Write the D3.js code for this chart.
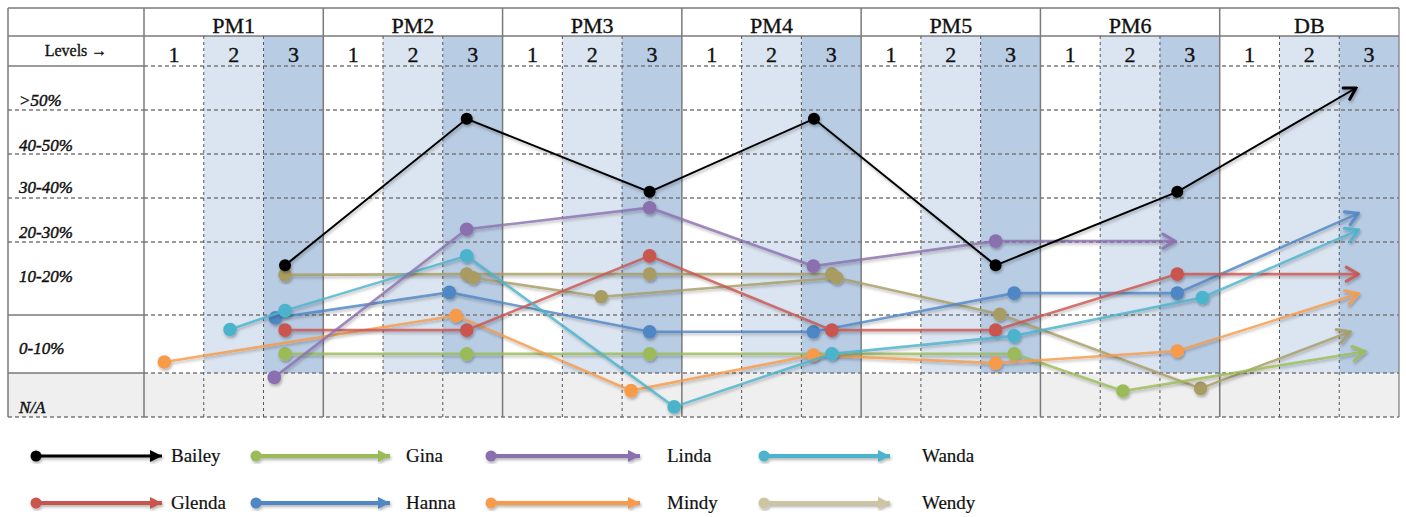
<!DOCTYPE html>
<html>
<head>
<meta charset="utf-8">
<script src="https://cdn.jsdelivr.net/npm/d3@7/dist/d3.min.js"></script>
<style>
  html, body { margin: 0; padding: 0; background: #fff; }
  svg { display: block; }
</style>
</head>
<body>
<svg id="chart" width="1406" height="517"></svg>
<script>
(function () {
// ---------------- DATA ----------------
const stages = ["PM1", "PM2", "PM3", "PM4", "PM5", "PM6", "DB"];
const levels = ["1", "2", "3"];
const levelsLabel = "Levels →";
const bandLabels = [">50%", "40-50%", "30-40%", "20-30%", "10-20%", "0-10%", "N/A"];
// value edges of the bands (N/A band below 0)
const bandEdges = [-10, 0, 10, 20, 30, 40, 50, 60];

// points: [column position (0..21), value]; last point of a series is the arrow tip
const bailey = [[2.36, 16.8], [5.40, 48.0], [8.46, 31.4], [11.21, 48.0], [14.25, 16.8], [17.29, 31.4], [20.28, 55.0]];
const gina   = [[2.36, 3.3], [5.40, 3.3], [8.46, 3.3], [14.56, 3.3], [16.38, -4.1], [20.43, 3.7]];
const linda  = [[2.18, -1.0], [5.40, 22.9], [8.46, 27.8], [11.20, 16.7], [14.25, 20.2], [17.25, 20.2]];
const wanda  = [[1.44, 7.5], [2.36, 10.6], [5.40, 18.1], [8.87, -7.7], [11.51, 3.3], [14.56, 6.4], [17.71, 12.4], [20.32, 22.7]];
const glenda = [[2.36, 7.4], [5.40, 7.4], [8.46, 18.1], [11.51, 7.4], [14.25, 7.4], [17.29, 15.6], [20.32, 15.6]];
const hanna  = [[2.20, 9.5], [5.11, 13.1], [8.46, 7.1], [11.20, 7.1], [14.56, 13.0], [17.29, 13.0], [20.32, 26.5]];
const mindy  = [[0.34, 1.9], [5.22, 9.9], [8.15, -4.0], [11.20, 3.1], [14.25, 1.7], [17.29, 3.8], [20.32, 12.9]];
const wendy  = [[5.51, 15.1], [7.65, 12.5], [11.59, 15.1], [14.32, 10.1], [17.68, -3.5], [20.18, 7.1]];
const wendyFlat = [[2.36, 15.5], [5.40, 15.6], [8.46, 15.6], [11.51, 15.6]]; // second Wendy trace, no arrow

const seriesNames = ["Bailey", "Gina", "Linda", "Wanda", "Glenda", "Hanna", "Mindy", "Wendy"];

// ---------------- STYLE / LAYOUT ----------------
const colors = {
  Bailey: "#000000", Gina: "#9bbb59", Linda: "#8b6fb0", Wanda: "#4bb3cc",
  Glenda: "#c9544f", Hanna: "#4f86c4", Mindy: "#f79a48", Wendy: "#a89c64"
};
const legendColors = Object.assign({}, colors, { Wendy: "#cdc5a2" });

const W = 1406, H = 517;
const leftX = 8, topY = 8, plotLeft = 144, rightX = 1399;
const headRow1 = 36;
const edgePx = [417, 373, 315, 242, 198, 154, 110, 66];
const bandLabelLift = [4, 3, 5, 4, 33, 19, 4]; // baseline offset from band bottom, same order as bandLabels
const fillLevel = ["#ffffff", "#dbe5f1", "#b8cce4"];
const naFill = "#efefef";
const gridCol = "#7a7a7a";
const fontSerif = "'Liberation Serif', 'DejaVu Serif', serif";
const ink = "#111";

const svg = d3.select("#chart");
const x = d3.scaleLinear().domain([0, stages.length * levels.length]).range([plotLeft, rightX]);
const y = d3.scaleLinear().domain(bandEdges).range(edgePx);

// defs
const defs = svg.append("defs");
const f = defs.append("filter").attr("id", "shadow").attr("x", "-20%").attr("y", "-20%").attr("width", "140%").attr("height", "140%");
f.append("feDropShadow").attr("dx", 1).attr("dy", 2).attr("stdDeviation", 1.4)
  .attr("flood-color", "#000").attr("flood-opacity", 0.3);

seriesNames.forEach(n => {
  const big = n === "Bailey";
  defs.append("marker")
    .attr("id", "arr-" + n)
    .attr("viewBox", "-14 -9 16 18")
    .attr("refX", 0).attr("refY", 0)
    .attr("markerUnits", "userSpaceOnUse")
    .attr("markerWidth", 16).attr("markerHeight", 18)
    .attr("orient", "auto")
    .append("path")
    .attr("d", big ? "M-11,-6.5 L0,0 L-11,6.5" : "M-12,-7 L0,0 L-12,7")
    .attr("fill", "none")
    .attr("stroke", colors[n])
    .attr("stroke-width", big ? 3 : 3.2)
    .attr("stroke-linejoin", "miter")
    .attr("stroke-linecap", "round")
    .attr("stroke-opacity", big ? 1 : 0.85);
  defs.append("marker")
    .attr("id", "leg-" + n)
    .attr("viewBox", "-12 -7 13 14")
    .attr("refX", 0).attr("refY", 0)
    .attr("markerUnits", "userSpaceOnUse")
    .attr("markerWidth", 13).attr("markerHeight", 14)
    .attr("orient", "auto")
    .append("path")
    .attr("d", "M-12,-6 L0,0 L-12,6 Z")
    .attr("fill", legendColors[n]);
});

// ---------------- BACKGROUND ----------------
svg.append("rect").attr("width", W).attr("height", H).attr("fill", "#fff");

const nCols = stages.length * levels.length;
const cols = d3.range(nCols);
svg.append("g").selectAll("rect").data(cols).join("rect")
  .attr("x", d => x(d)).attr("width", d => x(d + 1) - x(d))
  .attr("y", headRow1).attr("height", y(0) - headRow1)
  .attr("fill", d => fillLevel[d % levels.length]);

svg.append("rect").attr("x", leftX).attr("width", rightX - leftX)
  .attr("y", y(0)).attr("height", y(-10) - y(0)).attr("fill", naFill);

// ---------------- GRID ----------------
const grid = svg.append("g").attr("fill", "none");
const hEdges = bandEdges.slice(); // -10..60
grid.selectAll("line.hd").data(hEdges).join("line")
  .attr("x1", plotLeft).attr("x2", rightX)
  .attr("y1", d => y(d)).attr("y2", d => y(d))
  .attr("stroke", gridCol).attr("stroke-width", 1.4).attr("stroke-dasharray", "4,3");
grid.selectAll("line.hl").data(hEdges).join("line")
  .attr("x1", leftX).attr("x2", plotLeft)
  .attr("y1", d => y(d)).attr("y2", d => y(d))
  .attr("stroke", gridCol)
  .attr("stroke-width", 1.4)
  .attr("stroke-dasharray", d => (d === 0 || d === 10 || d === 60) ? null : "4,3");
[topY, headRow1].forEach(yy => {
  grid.append("line").attr("x1", leftX).attr("x2", rightX).attr("y1", yy).attr("y2", yy)
    .attr("stroke", gridCol).attr("stroke-width", 1.5);
});
grid.selectAll("line.vd").data(cols.filter(d => d % levels.length !== 0)).join("line")
  .attr("x1", d => x(d)).attr("x2", d => x(d))
  .attr("y1", headRow1).attr("y2", y(-10))
  .attr("stroke", "#555").attr("stroke-width", 1).attr("stroke-dasharray", "3,3");
grid.selectAll("line.vs").data(d3.range(stages.length + 1)).join("line")
  .attr("x1", d => x(d * levels.length)).attr("x2", d => x(d * levels.length))
  .attr("y1", topY).attr("y2", y(-10))
  .attr("stroke", gridCol).attr("stroke-width", d => d === stages.length ? 1.2 : 1.5);
grid.append("line").attr("x1", leftX).attr("x2", leftX).attr("y1", topY).attr("y2", y(-10))
  .attr("stroke", gridCol).attr("stroke-width", 1.5);

// ---------------- TEXT ----------------
const txt = svg.append("g").attr("font-family", fontSerif).attr("fill", ink)
  .attr("stroke", ink).attr("stroke-width", 0.35);
txt.selectAll("text.stage").data(stages).join("text")
  .attr("x", (d, i) => x(i * levels.length + levels.length / 2))
  .attr("y", 32.5).attr("text-anchor", "middle").attr("font-size", 22).text(d => d);
txt.selectAll("text.lvl").data(cols).join("text")
  .attr("x", d => x(d + 0.5)).attr("y", 62)
  .attr("text-anchor", "middle").attr("font-size", 22).text(d => levels[d % levels.length]);
txt.append("text").attr("x", (leftX + plotLeft) / 2).attr("y", 56)
  .attr("text-anchor", "middle").attr("font-size", 16).text(levelsLabel);
txt.selectAll("text.band").data(bandLabels).join("text")
  .attr("x", 19)
  .attr("y", (d, i) => y(bandEdges[bandEdges.length - 2 - i]) - bandLabelLift[i])
  .attr("font-size", 17).attr("font-style", "italic").attr("stroke-width", 0.45).text(d => d);

// ---------------- SERIES ----------------
const line = d3.line().x(d => x(d[0])).y(d => y(d[1]));
const seriesList = [
  { name: "Wendy", pts: wendyFlat, arrow: false },
  { name: "Wendy", pts: wendy, arrow: true },
  { name: "Gina", pts: gina, arrow: true },
  { name: "Mindy", pts: mindy, arrow: true },
  { name: "Hanna", pts: hanna, arrow: true },
  { name: "Glenda", pts: glenda, arrow: true },
  { name: "Wanda", pts: wanda, arrow: true },
  { name: "Linda", pts: linda, arrow: true },
  { name: "Bailey", pts: bailey, arrow: true }
];
const sg = svg.append("g");
seriesList.forEach(s => {
  const g = sg.append("g").attr("filter", "url(#shadow)");
  const isB = s.name === "Bailey";
  g.append("path").datum(s.pts).attr("d", line)
    .attr("fill", "none").attr("stroke", colors[s.name])
    .attr("stroke-width", isB ? 2 : 2.6)
    .attr("stroke-opacity", isB ? 1 : 0.8)
    .attr("marker-end", s.arrow ? "url(#arr-" + s.name + ")" : null);
  const dots = s.arrow ? s.pts.slice(0, -1) : s.pts;
  g.selectAll("circle").data(dots).join("circle")
    .attr("cx", d => x(d[0])).attr("cy", d => y(d[1]))
    .attr("r", isB ? 6 : 6.8)
    .attr("fill", colors[s.name]);
});

// ---------------- LEGEND ----------------
const legendOrder = [["Bailey", "Gina", "Linda", "Wanda"], ["Glenda", "Hanna", "Mindy", "Wendy"]];
const legRowY = [456, 503];
const legStart = [36, 256, 491, 764];
const legEnd = [162, 390, 640, 890];
const legText = [171, 406, 667, 922];
const lg = svg.append("g");
legendOrder.forEach((row, r) => {
  row.forEach((n, c) => {
    const g = lg.append("g").attr("filter", "url(#shadow)");
    g.append("line").attr("x1", legStart[c]).attr("x2", legEnd[c])
      .attr("y1", legRowY[r]).attr("y2", legRowY[r])
      .attr("stroke", legendColors[n]).attr("stroke-width", n === "Bailey" ? 3 : 4)
      .attr("marker-end", "url(#leg-" + n + ")");
    g.append("circle").attr("cx", legStart[c]).attr("cy", legRowY[r]).attr("r", 5.5)
      .attr("fill", legendColors[n]);
    lg.append("text").attr("x", legText[c]).attr("y", legRowY[r] + 6)
      .attr("font-family", fontSerif).attr("font-size", 19).attr("fill", ink)
      .attr("stroke", ink).attr("stroke-width", 0.2).text(n);
  });
});
})();
</script>
</body>
</html>
